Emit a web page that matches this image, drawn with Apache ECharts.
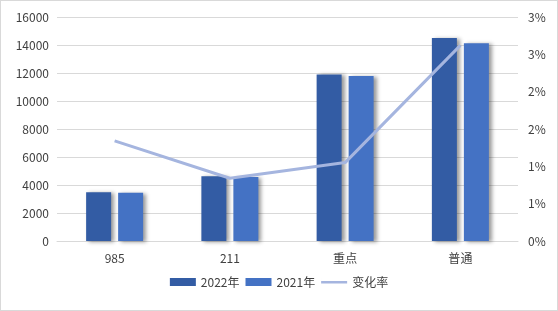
<!DOCTYPE html>
<html><head><meta charset="utf-8">
<script src="https://cdn.jsdelivr.net/npm/echarts@6/dist/echarts.min.js"></script>
<style>html,body{margin:0;padding:0;background:#fff}#c{width:558px;height:311px;box-sizing:border-box;border:1px solid #d9d9d9}</style>
</head><body><div id="c"></div>
<script>
const categories = ['985', '211', '重点', '普通'];
const values2022 = [3480, 4620, 11900, 14500];
const values2021 = [3440, 4580, 11780, 14130];
const changeRate = [0.0134, 0.0084, 0.0105, 0.0262];
const seriesNames = ['2022年', '2021年', '变化率'];

const font = '"Noto Sans CJK SC", "Microsoft YaHei", sans-serif';
const chart = echarts.init(document.getElementById('c'));
chart.setOption({
  animation: false,
  textStyle: { fontFamily: font },
  grid: { left: 56, right: 39, top: 16, bottom: 69 },
  legend: {
    bottom: 17, left: 'center', itemWidth: 26, itemHeight: 8, itemGap: 6,
    textStyle: { fontSize: 12, color: '#404040', fontFamily: font },
    data: [
      { name: seriesNames[0], icon: 'rect' },
      { name: seriesNames[1], icon: 'rect' },
      { name: seriesNames[2], icon: 'path://M0,3h26v2.4h-26zM0,0h0.01v8h-0.01z' }
    ]
  },
  xAxis: {
    type: 'category', data: categories,
    axisLine: { lineStyle: { color: '#d9d9d9' } },
    axisTick: { show: false },
    axisLabel: { color: '#404040', fontSize: 12, margin: 11 }
  },
  yAxis: [
    {
      type: 'value', min: 0, max: 16000, interval: 2000,
      axisLabel: { color: '#404040', fontSize: 12, margin: 8, formatter: v => String(v) },
      splitLine: { lineStyle: { color: '#d9d9d9' } },
      axisLine: { show: false }
    },
    {
      type: 'value', min: 0, max: 0.03, interval: 0.005,
      axisLabel: { color: '#404040', fontSize: 12, margin: 10,
        formatter: v => Math.round(v * 100 + 1e-9) + '%' },
      splitLine: { show: false },
      axisLine: { show: false }
    }
  ],
  series: [
    {
      name: seriesNames[0], type: 'bar', data: values2022, barWidth: 25, barGap: '28%',
      itemStyle: { color: '#335ca4', shadowColor: 'rgba(0,0,0,0.4)', shadowBlur: 4, shadowOffsetX: 3, shadowOffsetY: 1 }
    },
    {
      name: seriesNames[1], type: 'bar', data: values2021, barWidth: 25,
      itemStyle: { color: '#4472c4', shadowColor: 'rgba(0,0,0,0.4)', shadowBlur: 4, shadowOffsetX: 3, shadowOffsetY: 1 }
    },
    {
      name: seriesNames[2], type: 'line', yAxisIndex: 1, data: changeRate,
      symbol: 'none', lineStyle: { color: '#a5b5df', width: 3 }, itemStyle: { color: '#a5b5df' }
    }
  ]
});
</script></body></html>
